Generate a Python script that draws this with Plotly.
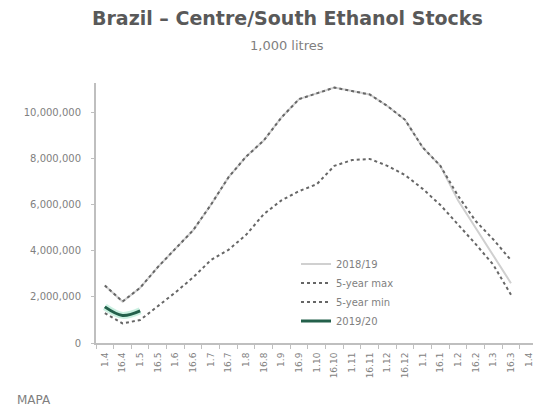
import plotly.graph_objects as go

# Half-monthly periods (data points), season April -> March
periods = ["1.4", "16.4", "1.5", "16.5", "1.6", "16.6", "1.7", "16.7", "1.8", "16.8",
           "1.9", "16.9", "1.10", "16.10", "1.11", "16.11", "1.12", "16.12",
           "1.1", "16.1", "1.2", "16.2", "1.3", "16.3"]
tick_labels = periods + ["1.4"]

# Values in 1,000 litres
max_5y = [2500000, 1800000, 2400000, 3300000, 4100000, 4900000, 6000000, 7200000,
          8100000, 8800000, 9800000, 10600000, 10850000, 11100000, 10950000, 10800000,
          10300000, 9700000, 8500000, 7700000, 6400000, 5300000, 4500000, 3600000]
min_5y = [1300000, 850000, 1000000, 1600000, 2200000, 2850000, 3600000, 4050000,
          4700000, 5600000, 6200000, 6600000, 6900000, 7700000, 7950000, 8000000,
          7700000, 7300000, 6700000, 6000000, 5150000, 4300000, 3400000, 2100000]
s2018_19 = [2500000, 1800000, 2400000, 3300000, 4100000, 4900000, 6000000, 7200000,
            8100000, 8800000, 9800000, 10600000, 10850000, 11100000, 10950000, 10800000,
            10300000, 9700000, 8500000, 7700000, 6200000, 5000000, 3800000, 2600000]
s2019_20 = [1570000, 1200000, 1400000]
y_ticks = [0, 2000000, 4000000, 6000000, 8000000, 10000000]

xs = list(range(len(periods)))
font_family = "Verdana, DejaVu Sans, sans-serif"
grey_text = "#7f7f7f"

# page body has an 8px margin -> figure is 533x406
W, H = 533, 406
L, R, T, B = 88, 0, 75, 71
PW, PH = W - L - R, H - T - B

fig = go.Figure()
fig.add_trace(go.Scatter(x=xs, y=s2018_19, mode="lines", name="2018/19",
                         line=dict(color="#d0d0d0", width=2)))
fig.add_trace(go.Scatter(x=xs, y=max_5y, mode="lines", name="5-year max",
                         line=dict(color="#666666", width=2, dash="dot")))
fig.add_trace(go.Scatter(x=xs, y=min_5y, mode="lines", name="5-year min",
                         line=dict(color="#666666", width=2, dash="dot")))
# glow beneath 2019/20
fig.add_trace(go.Scatter(x=xs[:len(s2019_20)], y=s2019_20, mode="lines", showlegend=False,
                         hoverinfo="skip",
                         line=dict(color="rgba(150,225,195,0.5)", width=7, shape="spline")))
fig.add_trace(go.Scatter(x=xs[:len(s2019_20)], y=s2019_20, mode="lines", name="2019/20",
                         line=dict(color="#23604b", width=3, shape="spline")))

fig.update_layout(
    width=W, height=H,
    margin=dict(l=L, r=R, t=T, b=B, autoexpand=False),
    paper_bgcolor="white", plot_bgcolor="white",
    font=dict(family=font_family, color=grey_text, size=9),
    showlegend=True,
    legend=dict(x=(288 - L) / PW, y=1 - (241.6 - T) / PH, xanchor="left", yanchor="top",
                bgcolor="rgba(0,0,0,0)", font=dict(size=10, color=grey_text),
                tracegroupgap=0, itemwidth=30),
    xaxis=dict(
        range=[-0.5, 24.7],
        tickmode="array", tickvals=list(range(len(tick_labels))), ticktext=tick_labels,
        tickangle=-90, ticks="", showgrid=False, zeroline=False,
        showline=True, linecolor="#bfbfbf", linewidth=2,
        tickfont=dict(size=9, color=grey_text), ticklabelstandoff=4,
        ticklabeloverflow="allow",
        minor=dict(tickmode="array", tickvals=[i - 0.5 for i in range(len(tick_labels) + 1)],
                   ticks="outside", ticklen=4, tickcolor="#bfbfbf", showgrid=False),
    ),
    yaxis=dict(
        range=[0, 11300000], tickmode="array", tickvals=y_ticks,
        tickformat=",d", showgrid=False, zeroline=False,
        showline=True, linecolor="#bfbfbf", linewidth=2,
        ticks="outside", ticklen=3, tickcolor="#bfbfbf",
        tickfont=dict(size=10, color=grey_text), ticklabelstandoff=8,
    ),
    annotations=[
        dict(text="<b>Brazil – Centre/South Ethanol Stocks</b>", xref="paper", yref="paper",
             x=(279 - L) / PW, y=1 + (T - 10) / PH, xanchor="center", yanchor="middle",
             showarrow=False, font=dict(size=19, color="#595959", family=font_family)),
        dict(text="1,000 litres", xref="paper", yref="paper",
             x=(279 - L) / PW, y=1 + (T - 37) / PH, xanchor="center", yanchor="middle",
             showarrow=False, font=dict(size=13, color=grey_text, family=font_family)),
        dict(text="MAPA", xref="paper", yref="paper",
             x=-(L - 7) / PW, y=-(392 - (T + PH)) / PH, xanchor="left", yanchor="middle",
             showarrow=False, font=dict(size=12, color=grey_text, family=font_family)),
    ],
)

# avoid scrollbars covering the right edge of the page
fig.write_html(
    "out.html",
    post_script="document.documentElement.style.overflow='hidden';"
                "document.body.style.overflow='hidden';",
)
